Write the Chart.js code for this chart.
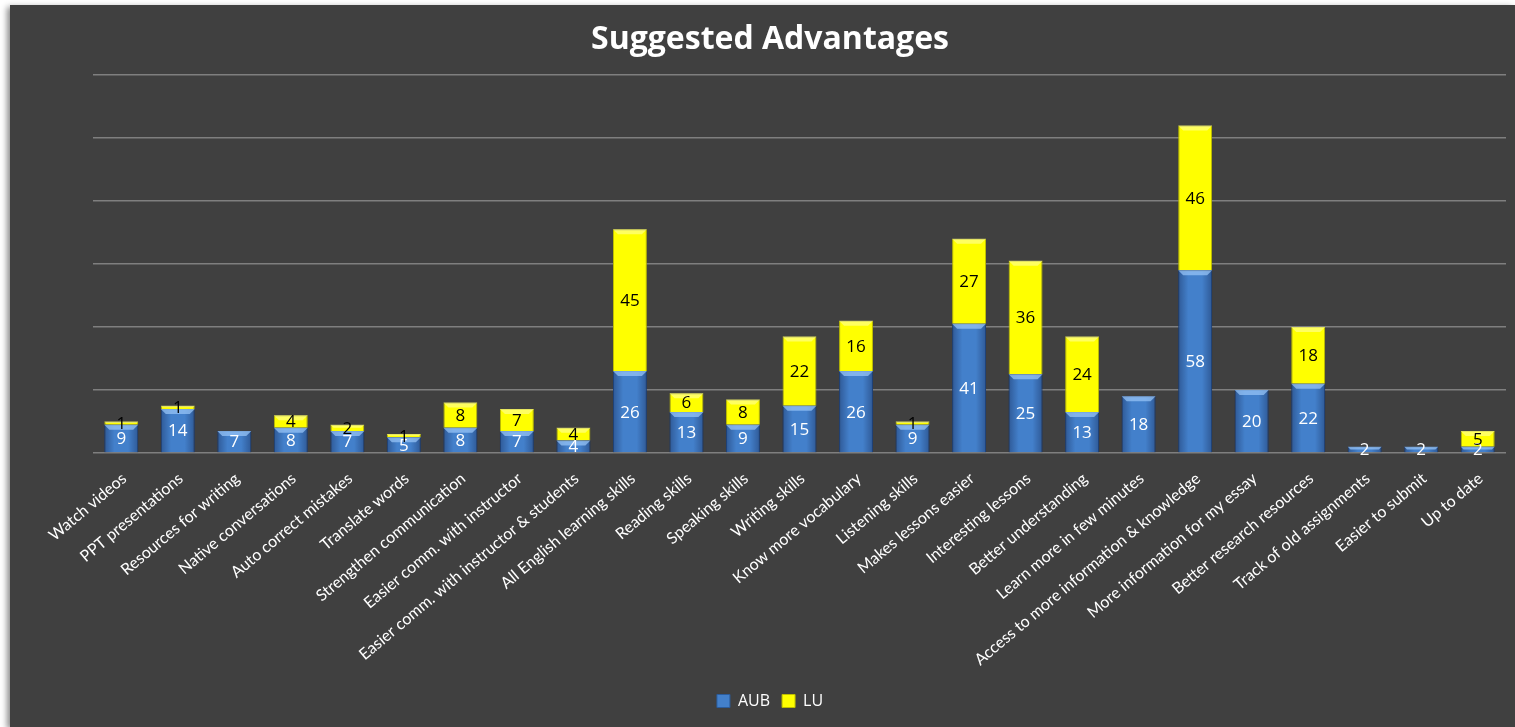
<!DOCTYPE html>
<html>
<head>
<meta charset="utf-8">
<script src="https://cdn.jsdelivr.net/npm/chart.js@4"></script>
<style>
  body { margin: 0; background: #ffffff; }
  #box {
    position: absolute; left: 10px; top: 5px;
    width: 1505px; height: 722px;
    background: #404040;
    box-shadow: -3px 2px 6px rgba(0,0,0,0.45);
  }
</style>
</head>
<body>
<div id="box"><canvas id="chart" width="1505" height="722"></canvas></div>
<script>
// Data
let categories = ["Watch videos", "PPT presentations", "Resources for writing", "Native conversations",
    "Auto correct mistakes", "Translate words", "Strengthen communication", "Easier comm. with instructor",
    "Easier comm. with instructor & students", "All English learning skills", "Reading skills", "Speaking skills",
    "Writing skills", "Know more vocabulary", "Listening skills", "Makes lessons easier", "Interesting lessons",
    "Better understanding", "Learn more in few minutes", "Access to more information & knowledge",
    "More information for my essay", "Better research resources", "Track of old assignments",
    "Easier to submit", "Up to date"];
let aubValues = [9, 14, 7, 8, 7, 5, 8, 7, 4, 26, 13, 9, 15, 26, 9, 41, 25, 13, 18, 58, 20, 22, 2, 2, 2];
let luValues = [1, 1, null, 4, 2, 1, 8, 7, 4, 45, 6, 8, 22, 16, 1, 27, 36, 24, null, 46, null, 18, null, null, 5];
let labelColors = ["#ffffff", "#000000"];

// Shading, bevel + value labels
let barLabels = {
    id: "barLabels",
    afterDatasetsDraw(chart) {
        let c = chart.ctx;
        chart.data.datasets.forEach((ds, i) => {
            let meta = chart.getDatasetMeta(i);
            meta.data.forEach((bar, j) => {
                let v = ds.data[j];
                if (v == null) return;
                let w = bar.width;
                let left = bar.x - w / 2;
                let top = Math.min(bar.y, bar.base);
                let h = Math.abs(bar.base - bar.y);
                c.save();
                if (i == 0) {
                    // darker edges on the blue bars
                    let g = c.createLinearGradient(left, 0, left + w, 0);
                    g.addColorStop(0, "rgba(0,0,30,0.30)");
                    g.addColorStop(0.3, "rgba(0,0,30,0)");
                    g.addColorStop(0.7, "rgba(0,0,30,0)");
                    g.addColorStop(1, "rgba(0,0,30,0.30)");
                    c.fillStyle = g;
                    c.fillRect(left, top, w, h);
                }
                // top bevel
                let bev = Math.min(5, h / 2);
                c.fillStyle = i == 0 ? "rgba(150,195,245,0.75)" : "rgba(255,255,160,0.6)";
                c.beginPath();
                c.moveTo(left, top);
                c.lineTo(left + w, top);
                c.lineTo(left + w - bev, top + bev);
                c.lineTo(left + bev, top + bev);
                c.closePath();
                c.fill();
                // label
                c.font = "17px 'Open Sans'";
                c.fillStyle = labelColors[i];
                c.textAlign = "center";
                c.textBaseline = "middle";
                c.fillText(v, bar.x, top + h / 2 + 1);
                c.restore();
            });
        });
    }
};

let ctx = document.querySelector("#chart").getContext("2d");
let chart = new Chart(ctx, {
    type: "bar",
    data: {
        labels: categories,
        datasets: [{
            label: "AUB",
            data: aubValues,
            backgroundColor: "#4380CB",
            borderColor: "#2B5C9C",
            borderWidth: 1,
            barPercentage: 0.6,
            categoryPercentage: 1
        }, {
            label: "LU",
            data: luValues,
            backgroundColor: "#FFFF00",
            borderColor: "#BDBD00",
            borderWidth: 1,
            barPercentage: 0.6,
            categoryPercentage: 1
        }]
    },
    options: {
        responsive: false,
        animation: false,
        layout: { padding: { left: 24, right: 9, top: 0, bottom: 8 } },
        plugins: {
            title: {
                display: true,
                text: "Suggested Advantages",
                color: "#ffffff",
                font: { family: "'Open Sans'", size: 32, weight: "bold" },
                padding: { top: 16, bottom: 15.6 }
            },
            legend: {
                position: "bottom",
                labels: {
                    color: "#ffffff",
                    font: { family: "'Open Sans'", size: 16 },
                    boxWidth: 13,
                    boxHeight: 13,
                    padding: 12
                }
            },
            tooltip: { enabled: false }
        },
        scales: {
            x: {
                stacked: true,
                grid: { display: false },
                border: { display: false },
                ticks: {
                    color: "#ffffff",
                    font: { family: "Lato", size: 16 },
                    minRotation: 40,
                    maxRotation: 40,
                    autoSkip: false,
                    padding: 8,
                    labelOffset: 3
                },
                afterFit(scale) { scale.height = 228; }
            },
            y: {
                stacked: true,
                min: 0,
                max: 120,
                ticks: { display: false, stepSize: 20 },
                grid: { color: "#7f7f7f", lineWidth: 1.5, drawTicks: false },
                border: { display: false },
                afterFit(scale) { scale.width = 59; }
            }
        }
    },
    plugins: [barLabels]
});
</script>
</body>
</html>
